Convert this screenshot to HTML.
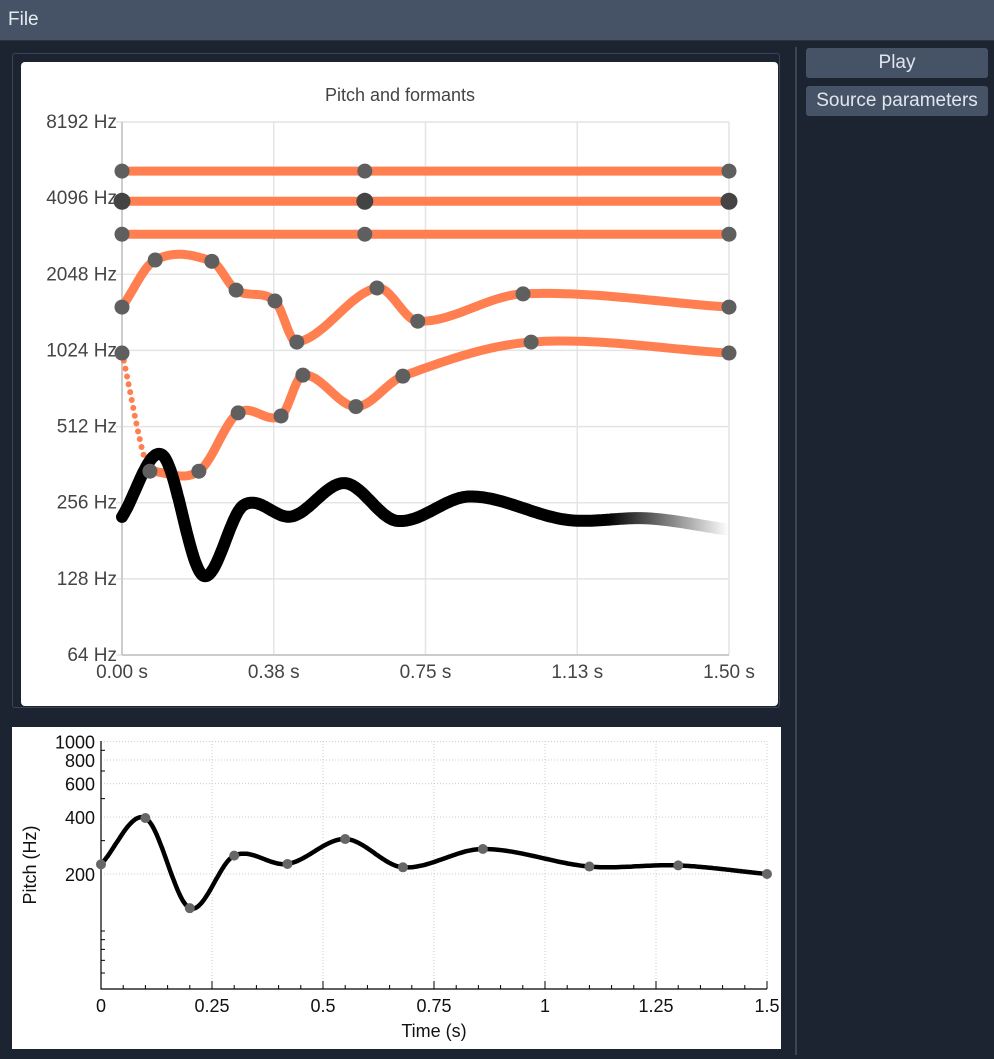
<!DOCTYPE html>
<html><head><meta charset="utf-8"><style>
body{margin:0;width:994px;height:1059px;background:#1b2430;font-family:"Liberation Sans",sans-serif;position:relative;overflow:hidden}
.menubar{position:absolute;left:0;top:0;width:994px;height:40px;background:#465366;border-bottom:1px solid #2b3440}
.menubar span{position:absolute;left:8px;top:9px;color:#e6ebf0;font-size:19px}
.btn{position:absolute;left:806px;width:182px;height:30px;background:#465366;border-radius:3px;color:#e0e6ee;font-size:19px;text-align:center;line-height:30px}
.sep{position:absolute;left:795px;top:47px;width:2px;height:1008px;background:#3a4555}
.frame{position:absolute;left:12px;top:53px;width:766px;height:653px;border:1px solid #3a4555;border-radius:3px}
.card{position:absolute;left:21px;top:62px;width:757px;height:644px;background:#fff;border-radius:4px}
.card2{position:absolute;left:12px;top:727px;width:769px;height:322px;background:#fff}
svg{position:absolute;left:0;top:0}
</style></head><body>
<div class="menubar"><span>File</span></div>
<div class="btn" style="top:48px">Play</div>
<div class="btn" style="top:86px">Source parameters</div>
<div class="sep"></div>
<div class="frame"></div>
<div class="card"></div>
<div class="card2"></div>
<svg id="s" width="994" height="1059"></svg>
<script>
const timeTicks=[0,0.375,0.75,1.125,1.5];
const timeTickLabels=["0.00 s","0.38 s","0.75 s","1.13 s","1.50 s"];
const freqTicks=[64,128,256,512,1024,2048,4096,8192];
const pitchT=[0,0.1,0.2,0.3,0.42,0.55,0.68,0.86,1.1,1.3,1.5];
const pitchF=[225,395,132,250,226,306,217,271,219,222,200];
const f1T=[0,0.069,0.190,0.287,0.393,0.447,0.578,0.694,1.011,1.5];
const f1F=[1000,341,341,580,564,818,614,810,1105,1000];
const f2T=[0,0.082,0.222,0.282,0.378,0.432,0.630,0.731,0.991,1.5];
const f2F=[1519,2332,2304,1774,1606,1105,1808,1336,1713,1519];
const f3T=[0,0.6,1.5];const f3F=[2950,2950,2950];
const f4T=[0,0.6,1.5];const f4F=[3980,3980,3980];
const f5T=[0,0.6,1.5];const f5F=[5240,5240,5240];
const bxTicks=[0,0.25,0.5,0.75,1,1.25,1.5];
const bxLabels=["0","0.25","0.5","0.75","1","1.25","1.5"];
const byTicks=[200,400,600,800,1000];

const S=document.getElementById('s');const NS='http://www.w3.org/2000/svg';
function el(t,a,p){const e=document.createElementNS(NS,t);for(const k in a)e.setAttribute(k,a[k]);(p||S).appendChild(e);return e;}
const X=t=>122+t/1.5*607;
const Y=f=>122+Math.log2(8192/f)*(533/7);
const BX=t=>101+t/1.5*666;
const BY=f=>874+Math.log2(200/f)*57;

function spline(T,F,n){
  const L=F.map(v=>Math.log(v));const m=L.map((v,i)=>{
    if(i==0)return (L[1]-L[0])/(T[1]-T[0]);
    if(i==L.length-1)return (L[i]-L[i-1])/(T[i]-T[i-1]);
    return (L[i+1]-L[i-1])/(T[i+1]-T[i-1]);});
  const pts=[];
  for(let i=0;i<T.length-1;i++){const h=T[i+1]-T[i];
    for(let k=0;k<n;k++){const s=k/n,s2=s*s,s3=s2*s;
      const v=(2*s3-3*s2+1)*L[i]+(s3-2*s2+s)*h*m[i]+(-2*s3+3*s2)*L[i+1]+(s3-s2)*h*m[i+1];
      pts.push([T[i]+s*h,Math.exp(v)]);}}
  pts.push([T[T.length-1],F[F.length-1]]);return pts;}
function path(pts,fx,fy){return pts.map((p,i)=>(i?'L':'M')+fx(p[0]).toFixed(1)+' '+fy(p[1]).toFixed(1)).join(' ');}

let e;
e=el('text',{x:400,y:101,'text-anchor':'middle','font-size':18,fill:'#444'});e.textContent='Pitch and formants';

timeTicks.forEach((t,i)=>{
  e=el('line',{x1:X(t),x2:X(t),y1:122,y2:655,stroke:'#e4e4e4','stroke-width':1.5});
  
  e=el('text',{x:X(t),y:678,'text-anchor':'middle','font-size':19,fill:'#444'});e.textContent=timeTickLabels[i];
  
});
freqTicks.forEach(f=>{
  e=el('line',{x1:116,x2:729,y1:Y(f),y2:Y(f),stroke:'#e4e4e4','stroke-width':1.5});
  
  e=el('text',{x:117,y:Y(f)+6,'text-anchor':'end','font-size':19,fill:'#444'});e.textContent=f+' Hz';
  
});
e=el('line',{x1:122,x2:122,y1:122,y2:655,stroke:'#ccc','stroke-width':2});

e=el('line',{x1:122,x2:729,y1:655,y2:655,stroke:'#ccc','stroke-width':2});


const fmts=[[f5T,f5F,'formant-5'],[f4T,f4F,'formant-4'],[f3T,f3F,'formant-3'],[f2T,f2F,'formant-2']];
fmts.forEach(([T,F,nm])=>{
  e=el('path',{d:path(spline(T,F,30),X,Y),fill:'none',stroke:'#ff7f50','stroke-width':9,'stroke-linecap':'round'});
  
});
e=el('path',{d:path(spline(f1T.slice(0,3),f1F.slice(0,3),30).slice(0,31),X,Y),fill:'none',stroke:'#ff7f50','stroke-width':6,'stroke-linecap':'round','stroke-dasharray':'0 8'});

e=el('path',{d:path(spline(f1T.slice(1),f1F.slice(1),30),X,Y),fill:'none',stroke:'#ff7f50','stroke-width':9,'stroke-linecap':'round'});

const defs=el('defs',{});
const g=el('linearGradient',{id:'fade',gradientUnits:'userSpaceOnUse',x1:X(1.0),x2:X(1.5),y1:0,y2:0},defs);
el('stop',{offset:0,'stop-color':'#000','stop-opacity':1},g);
el('stop',{offset:0.4,'stop-color':'#000','stop-opacity':1},g);
el('stop',{offset:1,'stop-color':'#000','stop-opacity':0},g);
e=el('path',{d:path(spline(pitchT,pitchF,40),X,Y),fill:'none',stroke:'url(#fade)','stroke-width':12,'stroke-linecap':'round'});

[[f1T,f1F,'formant-1'],[f2T,f2F,'formant-2'],[f3T,f3F,'formant-3'],[f4T,f4F,'formant-4'],[f5T,f5F,'formant-5']].forEach(([T,F,nm])=>{
  T.forEach((t,i)=>{
    e=el('circle',{cx:X(t),cy:Y(F[i]),r:nm=='formant-4'?8.5:7.5,fill:nm=='formant-4'?'#444':'#5f5f5f'});
    
  });
});

bxTicks.forEach((t,i)=>{
  if(i>0){e=el('line',{x1:BX(t),x2:BX(t),y1:741,y2:989,stroke:'#ccc','stroke-width':1,'stroke-dasharray':'1 2'});
  }
  e=el('text',{x:BX(t),y:1012,'text-anchor':'middle','font-size':18,fill:'#111'});e.textContent=bxLabels[i];
  
});
for(let t=0;t<=1.5001;t+=0.05){el('line',{x1:BX(t),x2:BX(t),y1:989,y2:(Math.round(t*20)%5==0)?981:985,stroke:'#000','stroke-width':1});}
byTicks.forEach(f=>{
  e=el('line',{x1:101,x2:767,y1:BY(f),y2:BY(f),stroke:'#ccc','stroke-width':1,'stroke-dasharray':'1 2'});
  
  e=el('text',{x:95,y:BY(f)+7,'text-anchor':'end','font-size':18,fill:'#111'});e.textContent=f;
  
});
[60,70,80,90,100,300,500,700,900].forEach(f=>el('line',{x1:101,x2:105,y1:BY(f),y2:BY(f),stroke:'#000'}));
e=el('path',{d:'M101 741 V989 H767',fill:'none',stroke:'#000','stroke-width':1.2});

e=el('text',{x:434,y:1037,'text-anchor':'middle','font-size':18,fill:'#111'});e.textContent='Time (s)';

e=el('text',{x:36,y:865,'text-anchor':'middle','font-size':18,fill:'#111',transform:'rotate(-90 36 865)'});e.textContent='Pitch (Hz)';

e=el('path',{d:path(spline(pitchT,pitchF,40),BX,BY),fill:'none',stroke:'#000','stroke-width':4.5});

pitchT.forEach((t,i)=>{
  e=el('circle',{cx:BX(t),cy:BY(pitchF[i]),r:5,fill:'#666'});
  
});
</script>
</body></html>
